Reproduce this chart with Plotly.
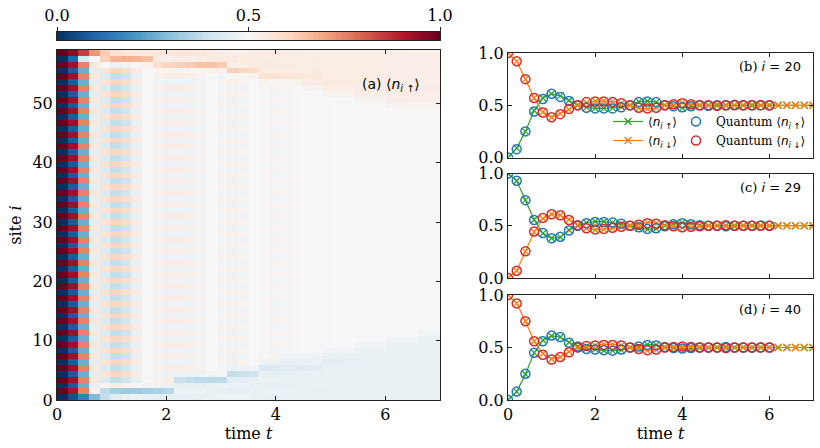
import plotly.graph_objects as go
import numpy as np

# ---------------- data ----------------
t_classical = [round(0.2 * k, 1) for k in range(36)]
t_quantum = t_classical[:31]

# panel (b) site i = 20
up_b = [0.00, 0.09, 0.25, 0.45, 0.57, 0.61, 0.59, 0.545, 0.50, 0.48, 0.47, 0.47, 0.475, 0.485, 0.50, 0.535,
        0.54, 0.53, 0.50, 0.495, 0.475, 0.49, 0.50, 0.50, 0.505, 0.50, 0.50, 0.50, 0.495, 0.50, 0.50, 0.50,
        0.50, 0.50, 0.50, 0.50]
down_b = [1.00, 0.92, 0.75, 0.57, 0.435, 0.385, 0.42, 0.46, 0.505, 0.525, 0.54, 0.54, 0.535, 0.52, 0.50, 0.47,
          0.465, 0.475, 0.50, 0.505, 0.525, 0.51, 0.50, 0.50, 0.495, 0.50, 0.50, 0.50, 0.505, 0.50, 0.50, 0.50,
          0.50, 0.50, 0.50, 0.50]
q_up_b = [0.00, 0.08, 0.25, 0.44, 0.56, 0.61, 0.58, 0.54, 0.50, 0.475, 0.47, 0.47, 0.47, 0.48, 0.50, 0.53,
          0.535, 0.53, 0.50, 0.49, 0.48, 0.49, 0.50, 0.495, 0.50, 0.50, 0.505, 0.50, 0.50, 0.50, 0.50]
q_down_b = [1.00, 0.92, 0.75, 0.57, 0.43, 0.385, 0.415, 0.465, 0.50, 0.53, 0.535, 0.535, 0.53, 0.52, 0.50, 0.475,
            0.47, 0.475, 0.50, 0.51, 0.52, 0.51, 0.50, 0.50, 0.495, 0.50, 0.50, 0.50, 0.50, 0.50, 0.50]

# panel (c) site i = 29
up_c = [1.00, 0.93, 0.745, 0.557, 0.427, 0.38, 0.39, 0.46, 0.50, 0.53, 0.54, 0.54, 0.53, 0.515, 0.50, 0.48,
        0.465, 0.47, 0.50, 0.52, 0.53, 0.52, 0.505, 0.50, 0.50, 0.50, 0.495, 0.50, 0.50, 0.50, 0.50, 0.50,
        0.50, 0.50, 0.50, 0.50]
down_c = [0.00, 0.07, 0.255, 0.44, 0.57, 0.61, 0.60, 0.56, 0.51, 0.475, 0.46, 0.465, 0.475, 0.49, 0.50, 0.515,
          0.53, 0.525, 0.505, 0.49, 0.48, 0.485, 0.495, 0.50, 0.50, 0.50, 0.505, 0.50, 0.50, 0.50, 0.50, 0.50,
          0.50, 0.50, 0.50, 0.50]
q_up_c = [1.00, 0.93, 0.745, 0.555, 0.43, 0.38, 0.395, 0.455, 0.50, 0.525, 0.535, 0.535, 0.53, 0.52, 0.50, 0.485,
          0.47, 0.475, 0.495, 0.515, 0.525, 0.515, 0.505, 0.50, 0.50, 0.495, 0.50, 0.50, 0.50, 0.50, 0.50]
q_down_c = [0.00, 0.07, 0.255, 0.445, 0.575, 0.61, 0.60, 0.555, 0.505, 0.475, 0.465, 0.47, 0.48, 0.49, 0.50, 0.51,
            0.525, 0.52, 0.505, 0.495, 0.485, 0.49, 0.495, 0.50, 0.50, 0.505, 0.50, 0.50, 0.50, 0.50, 0.50]

# panel (d) site i = 40
up_d = [0.00, 0.08, 0.246, 0.449, 0.57, 0.61, 0.60, 0.55, 0.51, 0.49, 0.485, 0.47, 0.47, 0.475, 0.50, 0.51,
        0.53, 0.525, 0.505, 0.495, 0.49, 0.49, 0.495, 0.50, 0.50, 0.505, 0.50, 0.50, 0.50, 0.50, 0.50, 0.50,
        0.50, 0.50, 0.50, 0.50]
down_d = [1.00, 0.92, 0.75, 0.56, 0.44, 0.39, 0.41, 0.46, 0.495, 0.51, 0.52, 0.53, 0.53, 0.52, 0.50, 0.49,
          0.47, 0.48, 0.50, 0.505, 0.51, 0.51, 0.505, 0.50, 0.50, 0.495, 0.50, 0.50, 0.50, 0.50, 0.50, 0.50,
          0.50, 0.50, 0.50, 0.50]
q_up_d = [0.00, 0.08, 0.25, 0.45, 0.56, 0.615, 0.60, 0.545, 0.51, 0.485, 0.48, 0.475, 0.47, 0.48, 0.50, 0.51,
          0.525, 0.52, 0.505, 0.495, 0.49, 0.495, 0.50, 0.50, 0.50, 0.505, 0.50, 0.50, 0.50, 0.50, 0.50]
q_down_d = [1.00, 0.92, 0.75, 0.56, 0.43, 0.385, 0.41, 0.455, 0.50, 0.515, 0.52, 0.525, 0.525, 0.52, 0.50, 0.485,
            0.475, 0.48, 0.50, 0.505, 0.51, 0.505, 0.50, 0.50, 0.50, 0.495, 0.50, 0.50, 0.50, 0.50, 0.50]

# heatmap (a): <n_i,up>(t) for 60 sites, 36 time columns
n_sites = 60
bulk_even_up = [0.00, 0.08, 0.25, 0.45, 0.57, 0.61, 0.59, 0.545, 0.50, 0.48, 0.47, 0.47, 0.47, 0.48, 0.50, 0.515,
                0.53, 0.52, 0.50, 0.495, 0.485, 0.49, 0.495, 0.50, 0.503, 0.503, 0.50, 0.50, 0.50, 0.50, 0.50,
                0.50, 0.50, 0.50, 0.50, 0.50]
bulk_odd_up = [1.00, 0.93, 0.75, 0.555, 0.43, 0.38, 0.40, 0.46, 0.50, 0.525, 0.535, 0.535, 0.53, 0.52, 0.50, 0.485,
               0.47, 0.475, 0.50, 0.51, 0.515, 0.51, 0.505, 0.50, 0.497, 0.497, 0.50, 0.50, 0.50, 0.50, 0.50,
               0.50, 0.50, 0.50, 0.50, 0.50]
# edge regions (number of rows from the edge that are tinted, and their level)
top_region_rows = [0, 0, 0, 0, 2, 2, 2, 2, 2, 3, 3, 3, 3, 3, 3, 3, 4, 4, 4, 5, 5, 5, 5, 6, 6, 7, 7, 7, 8, 8, 8,
                   9, 9, 9, 9, 9]
top_region_val = [0.5, 0.5, 0.5, 0.5, 0.55, 0.55, 0.55, 0.55, 0.55, 0.545, 0.545, 0.545, 0.545, 0.545, 0.545,
                  0.54, 0.54, 0.54, 0.54, 0.54, 0.54, 0.538, 0.538, 0.537, 0.537, 0.536, 0.536, 0.535, 0.535,
                  0.535, 0.535, 0.533, 0.533, 0.532, 0.532, 0.532]
bottom_region_rows = [0, 0, 0, 0, 2, 2, 2, 2, 2, 2, 2, 4, 4, 4, 4, 4, 5, 5, 5, 6, 6, 7, 7, 7, 7, 8, 8, 8, 9, 9,
                      9, 10, 10, 10, 11, 11]
bottom_region_val = [0.5, 0.5, 0.5, 0.5, 0.46, 0.46, 0.46, 0.46, 0.465, 0.465, 0.465, 0.465, 0.465, 0.465,
                     0.465, 0.465, 0.462, 0.462, 0.462, 0.462, 0.462, 0.463, 0.463, 0.463, 0.463, 0.464, 0.464,
                     0.464, 0.464, 0.465, 0.465, 0.465, 0.466, 0.466, 0.467, 0.467]
# moving fronts from the edges (row index, value) per time column
top_front_row = [None, None, None, None, 58, 58, 58, 58, 58, 57, 57, 57, 57, 57, 57, 57, 56, 56, 56, 55, 55,
                 55, 55, 55, 55, 54, 54, 54, 54, 54, 53, 53, 53, 53, 53, 53]
top_front_val = [0, 0, 0, 0, 0.62, 0.67, 0.68, 0.67, 0.65, 0.59, 0.61, 0.62, 0.63, 0.645, 0.645, 0.63, 0.62,
                 0.61, 0.595, 0.575, 0.575, 0.565, 0.565, 0.555, 0.55, 0.548, 0.545, 0.542, 0.54, 0.538, 0.537,
                 0.536, 0.535, 0.535, 0.534, 0.534]
bottom_front_row = [None, None, None, None, 1, 1, 1, 1, 1, 1, 1, 3, 3, 3, 3, 3, 4, 4, 4, 5, 5, 5, 5, 5, 5,
                    6, 6, 6, 6, 6, 7, 7, 7, 7, 7, 7]
bottom_front_val = [0, 0, 0, 0, 0.37, 0.33, 0.32, 0.32, 0.33, 0.34, 0.36, 0.39, 0.38, 0.37, 0.365, 0.37, 0.38,
                    0.39, 0.40, 0.425, 0.43, 0.435, 0.44, 0.445, 0.445, 0.45, 0.452, 0.455, 0.455, 0.457, 0.46,
                    0.46, 0.46, 0.46, 0.462, 0.462]
# first columns of the outermost rows
row59_early = [1.0, 0.95, 0.85, 0.72, 0.63, 0.58, 0.56, 0.55, 0.55]
row58_early = [0.0, 0.10, 0.42, 0.50]
row0_early = [0.0, 0.06, 0.16, 0.28, 0.38, 0.44, 0.46, 0.47]
row1_early = [1.0, 0.92, 0.75, 0.52]

Z = [[(bulk_even_up[k] if j % 2 == 0 else bulk_odd_up[k]) for k in range(36)] for j in range(n_sites)]
for k in range(36):
    nt, nb = top_region_rows[k], bottom_region_rows[k]
    for j in range(n_sites - nt, n_sites):
        Z[j][k] = top_region_val[k] + 0.4 * (Z[j][k] - 0.5)
    if nt > 0:  # softer boundary row
        j = n_sites - nt - 1
        Z[j][k] = 0.5 * (Z[j][k] + top_region_val[k])
    for j in range(nb):
        Z[j][k] = bottom_region_val[k] + 0.4 * (Z[j][k] - 0.5)
    if nb > 0:
        Z[nb][k] = 0.5 * (Z[nb][k] + bottom_region_val[k])
    if top_front_row[k] is not None:
        Z[top_front_row[k]][k] = top_front_val[k]
    if bottom_front_row[k] is not None:
        Z[bottom_front_row[k]][k] = bottom_front_val[k]
for k, v in enumerate(row59_early):
    Z[59][k] = v
for k, v in enumerate(row58_early):
    Z[58][k] = v
for k, v in enumerate(row0_early):
    Z[0][k] = v
for k, v in enumerate(row1_early):
    Z[1][k] = v

# ---------------- style ----------------
RdBu_r = [[0.0, '#053061'], [0.1, '#2166ac'], [0.2, '#4393c3'], [0.3, '#92c5de'], [0.4, '#d1e5f0'],
          [0.5, '#f7f7f7'], [0.6, '#fddbc7'], [0.7, '#f4a582'], [0.8, '#d6604d'], [0.9, '#b2182b'],
          [1.0, '#67001f']]
SERIF = 'DejaVu Serif'
SANS = 'DejaVu Sans'
C_UP, C_DN, Q_UP, Q_DN = '#2ca02c', '#ff7f0e', '#1f77b4', '#d62728'
W, H = 820, 448


def px(x0, x1):
    return [x0 / W, x1 / W]


def py(y_top, y_bot):
    return [1 - y_bot / H, 1 - y_top / H]


fig = go.Figure()

fig.add_trace(go.Heatmap(z=Z, x0=7 / 72, dx=7 / 36, y0=59 / 120, dy=59 / 60, zmin=0, zmax=1,
                         colorscale=RdBu_r, showscale=False, xaxis='x', yaxis='y', hoverinfo='skip'))

cb = np.linspace(0, 1, 256)
fig.add_trace(go.Heatmap(z=[cb], x=cb, y=[0], zmin=0, zmax=1, colorscale=RdBu_r, showscale=False,
                         xaxis='x2', yaxis='y2', hoverinfo='skip'))

up_lbl = '⟨<i>n</i><sub><i>i</i> ↑</sub>⟩'
dn_lbl = '⟨<i>n</i><sub><i>i</i> ↓</sub>⟩'
panels = [('x3', 'y3', up_b, down_b, q_up_b, q_down_b, True),
          ('x4', 'y4', up_c, down_c, q_up_c, q_down_c, False),
          ('x5', 'y5', up_d, down_d, q_up_d, q_down_d, False)]
for xa, ya, cu, cd, qu, qd, leg in panels:
    for vals, col, name in [(cu, C_UP, up_lbl), (cd, C_DN, dn_lbl)]:
        fig.add_trace(go.Scatter(x=t_classical, y=vals, mode='lines+markers', name=name,
                                 line=dict(color=col, width=1.2),
                                 marker=dict(symbol='x-thin-open', size=7, color=col,
                                             line=dict(color=col, width=1.3)),
                                 xaxis=xa, yaxis=ya, showlegend=leg, legend='legend'))
    for vals, col, name in [(qu, Q_UP, up_lbl), (qd, Q_DN, dn_lbl)]:
        fig.add_trace(go.Scatter(x=t_quantum, y=vals, mode='markers',
                                 name="<span style='font-family:DejaVu Serif'>Quantum</span> " + name,
                                 marker=dict(symbol='circle-open', size=9, color=col,
                                             line=dict(color=col, width=1.5)),
                                 xaxis=xa, yaxis=ya, showlegend=leg, legend='legend2'))

axis_common = dict(showline=True, linecolor='#222222', linewidth=1, mirror='allticks', ticks='inside',
                   ticklen=4, tickwidth=1, tickcolor='#222222', showgrid=False, zeroline=False,
                   automargin=False, tickfont=dict(family=SERIF, size=16, color='black'))
title_font = dict(family=SERIF, size=16, color='black')

layout = dict(
    width=W, height=H, margin=dict(l=0, r=0, t=0, b=0),
    paper_bgcolor='white', plot_bgcolor='white',
    xaxis=dict(axis_common, domain=px(57, 440), range=[0, 7], tickvals=[0, 2, 4, 6], anchor='y',
               title=dict(text='time <i>t</i>', font=title_font, standoff=2)),
    yaxis=dict(axis_common, domain=py(50, 400), range=[0, 59], tickvals=[0, 10, 20, 30, 40, 50], anchor='x',
               title=dict(text='site <i>i</i>', font=title_font, standoff=6)),
    xaxis2=dict(axis_common, domain=px(57, 440), range=[0, 1], side='top', anchor='y2', mirror=True,
                ticks='outside', tickvals=[0, 0.5, 1], ticktext=['0.0', '0.5', '1.0'], ticklen=4),
    yaxis2=dict(axis_common, domain=py(32, 40), range=[-0.5, 0.5], anchor='x2', mirror=True, ticks='',
                showticklabels=False),
    showlegend=True,
    legend=dict(x=608 / W, y=1 - 107 / H, xanchor='left', yanchor='top', bgcolor='rgba(0,0,0,0)',
                font=dict(family=SANS, size=12, color='black'), tracegroupgap=0, itemwidth=30),
    legend2=dict(x=676 / W, y=1 - 107 / H, xanchor='left', yanchor='top', bgcolor='rgba(0,0,0,0)',
                 font=dict(family=SANS, size=12, color='black'), tracegroupgap=0, itemwidth=30),
)
panel_y = [(53, 157.5), (173.5, 278), (295, 400)]
for n, (yt, yb) in zip([3, 4, 5], panel_y):
    last = n == 5
    xa = dict(axis_common, domain=px(508, 813), range=[0, 7], tickvals=[0, 2, 4, 6], anchor='y%d' % n,
              showticklabels=last)
    if last:
        xa['title'] = dict(text='time <i>t</i>', font=title_font, standoff=2)
    layout['xaxis%d' % n] = xa
    layout['yaxis%d' % n] = dict(axis_common, domain=py(yt, yb), range=[0, 1], tickvals=[0, 0.5, 1],
                                 ticktext=['0.0', '0.5', '1.0'], anchor='x%d' % n)

fig.update_layout(**layout)

ann_font = dict(family=SANS, size=13, color='black')
fig.add_annotation(x=422 / W, y=1 - 85 / H, xref='paper', yref='paper', xanchor='right', yanchor='middle',
                   text='(a) ' + up_lbl, showarrow=False, font=dict(family=SANS, size=14, color='black'))
for lbl, site, yt in [('(b)', 20, 53), ('(c)', 29, 173.5), ('(d)', 40, 295)]:
    fig.add_annotation(x=803 / W, y=1 - (yt + 14) / H, xref='paper', yref='paper', xanchor='right',
                       yanchor='middle', showarrow=False, font=ann_font,
                       text="<span style='font-family:DejaVu Serif'>%s</span> <i>i</i> = %d" % (lbl, site))

fig.write_html('out.html')
